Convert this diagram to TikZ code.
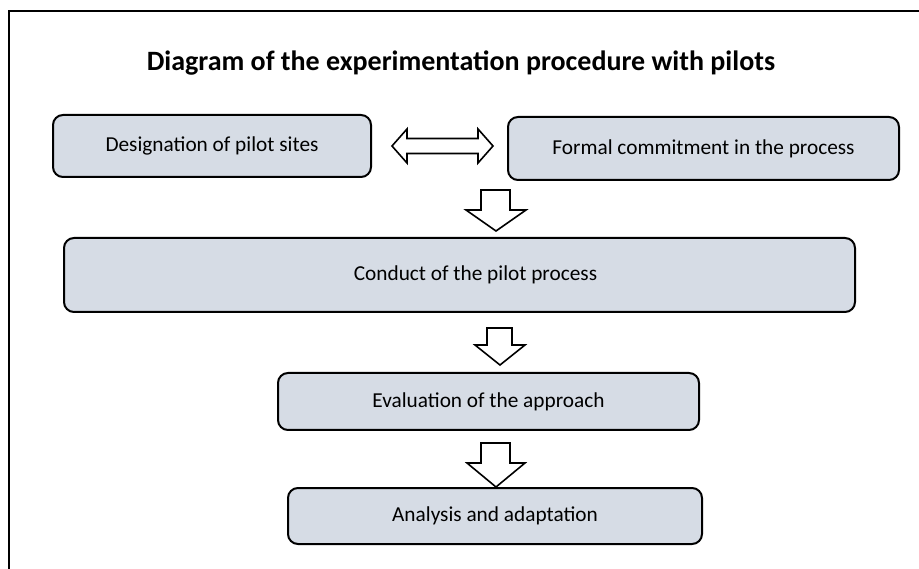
\documentclass[tikz,border=0pt]{standalone}
\usepackage{fontspec}
\setmainfont{Carlito}
\definecolor{boxfill}{HTML}{D6DCE5}
\tikzset{
  box/.style={draw=black, line width=2pt, fill=boxfill, rounded corners=10pt,
    inner sep=0pt, font=\fontsize{21.3}{24}\selectfont},
  blockarrow/.style={draw=black, line width=1.6pt, fill=white, line join=miter},
  frame/.style={draw=black, line width=2.2pt},
  titletext/.style={font=\fontsize{28}{31}\selectfont\bfseries, inner sep=0pt}
}
\begin{document}
\begin{tikzpicture}[x=1pt, y=-1pt]
\useasboundingbox (0,0) rectangle (919,569);
% outer frame (only left and top edges visible)
\draw[frame] (9,569) -- (9,11) -- (919,11);
% title
\node[titletext, anchor=base] (title) at (461,71) {Diagram of the experimentation procedure with pilots};
% boxes
\node[box, minimum width=318pt, minimum height=62pt] (b1) at (212,146) {Designation of pilot sites};
\node[box, minimum width=391pt, minimum height=63pt] (b2) at (703.5,148.5) {Formal commitment in the process};
\node[box, minimum width=791pt, minimum height=74pt] (b3) at (459.5,275) {\hspace*{32pt}Conduct of the pilot process};
\node[box, minimum width=421pt, minimum height=57pt] (b4) at (488.5,401.5) {Evaluation of the approach};
\node[box, minimum width=414pt, minimum height=56pt] (b5) at (495,516) {Analysis and adaptation};
% double arrow between b1 and b2
\draw[blockarrow] (392,146) -- (407,129) -- (407,138.5) -- (478,138.5) -- (478,129)
  -- (493,146) -- (478,163) -- (478,153.5) -- (407,153.5) -- (407,163) -- cycle;
% down arrow 1
\draw[blockarrow] (481,190) -- (510,190) -- (510,210) -- (526,210) -- (496,231)
  -- (466,210) -- (481,210) -- cycle;
% down arrow 2
\draw[blockarrow] (487,328) -- (512,328) -- (512,345) -- (525,345) -- (500,365)
  -- (475,345) -- (487,345) -- cycle;
% down arrow 3
\draw[blockarrow] (481,443) -- (510,443) -- (510,463) -- (525,463) -- (496,487)
  -- (467,463) -- (481,463) -- cycle;
\end{tikzpicture}
\end{document}
